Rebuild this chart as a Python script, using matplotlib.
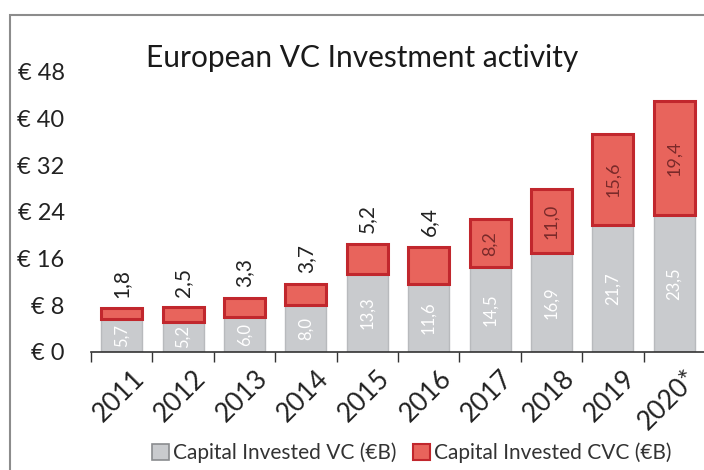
import matplotlib
matplotlib.use('Agg')
import matplotlib.pyplot as plt
import matplotlib.transforms as mtransforms
from matplotlib.patches import Patch, Rectangle

years = ['2011', '2012', '2013', '2014', '2015', '2016', '2017', '2018', '2019', '2020*']
vcValues = [5.7, 5.2, 6.0, 8.0, 13.3, 11.6, 14.5, 16.9, 21.7, 23.5]
cvcValues = [1.8, 2.5, 3.3, 3.7, 5.2, 6.4, 8.2, 11.0, 15.6, 19.4]
yTicks = [0, 8, 16, 24, 32, 40, 48]

grayColor = '#c9cbce'
redFill = '#e8645c'
redEdge = '#c1272d'

plt.rcParams['font.family'] = ['Lato', 'DejaVu Sans']

fig = plt.figure(figsize=(7.04, 4.70), dpi=100)
ax = fig.add_axes([91/704, 118/470, 614/704, 292/470])

xPos = list(range(len(years)))

# stacked bars
ax.bar(xPos, vcValues, width=0.67, color=grayColor, edgecolor='#b8babd', linewidth=1)
ax.bar(xPos, cvcValues, width=0.67, bottom=vcValues, color=redFill, edgecolor=redEdge, linewidth=2.2)

# labels
for i in xPos:
    vcLabel = f"{vcValues[i]:.1f}".replace('.', ',')
    cvcLabel = f"{cvcValues[i]:.1f}".replace('.', ',')
    ax.text(i, vcValues[i] / 2, vcLabel, rotation=90, ha='center', va='center',
            fontsize=12, color='white')
    total = vcValues[i] + cvcValues[i]
    if i < 6:
        ax.text(i, total + 1.8, cvcLabel, rotation=90, ha='center', va='bottom',
                fontsize=15, color='#222222')
    else:
        ax.text(i, vcValues[i] + cvcValues[i] / 2, cvcLabel, rotation=90, ha='center',
                va='center', fontsize=13, color='#7a2a2a')

ax.set_xlim(-0.5, len(years) - 0.5)
ax.set_ylim(0, 50)

ax.set_yticks(yTicks)
ax.set_yticklabels([f"€ {t}" for t in yTicks], fontsize=17, color='#222222')
ax.tick_params(axis='y', length=0, pad=19)

ax.set_xticks(xPos)
ax.set_xticklabels(years, rotation=45, ha='right', rotation_mode='anchor', fontsize=19, color='#222222')
ax.tick_params(axis='x', length=0, pad=10)
shift = mtransforms.ScaledTranslation(10/100, 0, fig.dpi_scale_trans)
for lbl in ax.get_xticklabels():
    lbl.set_transform(lbl.get_transform() + shift)
ax.set_xticks([x + 0.5 for x in range(-1, len(years))], minor=True)
ax.tick_params(axis='x', which='minor', length=7, width=1, color='#333333')

for side in ['left', 'right', 'top']:
    ax.spines[side].set_visible(False)
ax.spines['bottom'].set_color('#333333')
ax.spines['bottom'].set_linewidth(1.2)

# chart frame
fig.patches.append(Rectangle((10/704, -0.1), 1.0, (455/470) + 0.1, transform=fig.transFigure,
                             fill=False, edgecolor='#8c8c8c', linewidth=1.5))

fig.text(362/704, (470 - 58)/470, 'European VC Investment activity', ha='center', va='center',
         fontsize=21.5, color='#1a1a1a')

handles = [Patch(facecolor=grayColor, edgecolor='#8a8c8f', linewidth=1.2),
           Patch(facecolor=redFill, edgecolor=redEdge, linewidth=1.5)]
fig.legend(handles, ['Capital Invested VC (€B)', 'Capital Invested CVC (€B)'],
           loc='center', bbox_to_anchor=(412/704, 17/470), ncol=2, frameon=False,
           fontsize=15, handlelength=0.8, handleheight=0.8, handletextpad=0.2,
           columnspacing=0.8, labelcolor='#333333')

fig.savefig('out.png', dpi=100)
